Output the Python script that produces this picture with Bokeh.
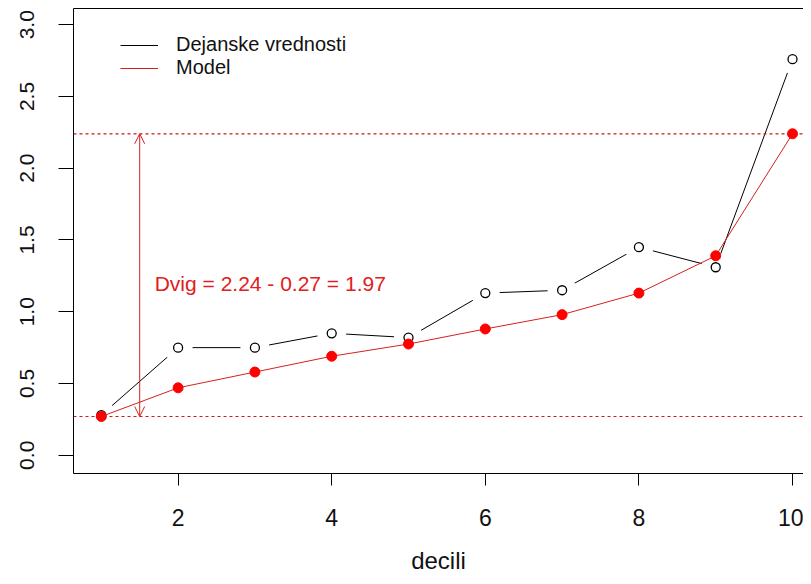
from bokeh.plotting import figure
from bokeh.models import (Range1d, FixedTicker, PrintfTickFormatter, LinearAxis,
                          Span, Arrow, OpenHead, Legend, LegendItem, ColumnDataSource)
from bokeh.core.properties import value
from bokeh.embed import file_html
from bokeh.resources import INLINE

# ---- data ----
decili = [1, 2, 3, 4, 5, 6, 7, 8, 9, 10]
dejanske = [0.28, 0.75, 0.75, 0.85, 0.82, 1.13, 1.15, 1.45, 1.31, 2.76]
model = [0.27, 0.47, 0.58, 0.69, 0.775, 0.88, 0.98, 1.13, 1.39, 2.24]
x_ticks = [2, 4, 6, 8, 10]
y_ticks = [0.0, 0.5, 1.0, 1.5, 2.0, 2.5, 3.0]
dvig_low = 0.27
dvig_high = 2.24
arrow_x = 1.5
label_x = 3.2
label_y = 1.2
label_text = "Dvig = 2.24 - 0.27 = 1.97"
legend_labels = ["Dejanske vrednosti", "Model"]

FONT = "Liberation Sans"
RED = "#ff0000"
LINE_RED = "#d42020"

p = figure(width=803, height=576, output_backend="svg", toolbar_location=None,
           x_range=Range1d(0.638, 10.143), y_range=Range1d(-0.127, 3.113),
           min_border_left=73, min_border_right=0, min_border_top=8,
           min_border_bottom=99, x_axis_label="decili")
p.outline_line_color = None
p.grid.visible = False
p.background_fill_color = "white"
p.border_fill_color = "white"

# axes
xa = p.xaxis[0]
xa.ticker = FixedTicker(ticks=x_ticks)
xa.major_tick_out = 12
xa.major_tick_in = 0
xa.minor_tick_out = 0
xa.minor_tick_in = 0
xa.major_label_text_font = FONT
xa.major_label_text_font_size = "23px"
xa.major_label_text_color = "#111111"
xa.major_label_standoff = 23
xa.axis_label_text_font = FONT
xa.axis_label_text_font_size = "24px"
xa.axis_label_text_font_style = "normal"
xa.axis_label_text_color = "#111111"
xa.axis_label_standoff = 18
xa.axis_line_color = "black"

ya = p.yaxis[0]
ya.ticker = FixedTicker(ticks=y_ticks)
ya.formatter = PrintfTickFormatter(format="%.1f")
ya.major_tick_out = 15
ya.major_tick_in = 0
ya.minor_tick_out = 0
ya.minor_tick_in = 0
ya.major_label_text_font = FONT
ya.major_label_text_font_size = "21px"
ya.major_label_text_color = "#111111"
ya.major_label_orientation = "vertical"
ya.major_label_standoff = 24
ya.axis_line_color = "black"

top = LinearAxis(ticker=FixedTicker(ticks=[]), major_tick_out=0, major_tick_in=0,
                 minor_tick_out=0, minor_tick_in=0, major_label_standoff=0,
                 major_label_text_font_size="0px", axis_line_color="black")
p.add_layout(top, "above")

src = ColumnDataSource(dict(x=decili, d=dejanske, m=model))

# black series (type "b": line with gaps around points)
black_line = p.line("x", "d", source=src, line_color="black", line_width=1)
p.scatter("x", "d", source=src, size=29, fill_color="white", line_color=None)
p.scatter("x", "d", source=src, size=9, fill_color=None, line_color="black", line_width=1.3)

# red model series
red_line = p.line("x", "m", source=src, line_color=LINE_RED, line_width=1)
p.scatter("x", "m", source=src, size=10, fill_color=RED, line_color=RED)

# dotted horizontal lines
for loc in (dvig_high, dvig_low):
    p.add_layout(Span(location=loc, dimension="width", line_color="#cc1a1a",
                      line_dash="3 3", line_width=1.2))

# double arrow
p.add_layout(Arrow(x_start=arrow_x, y_start=dvig_low, x_end=arrow_x, y_end=dvig_high,
                   line_color=LINE_RED, line_width=1,
                   start=OpenHead(size=10, line_color=LINE_RED, line_width=1),
                   end=OpenHead(size=10, line_color=LINE_RED, line_width=1)))

p.text(x=[label_x], y=[label_y], text=[label_text], text_font=value(FONT),
       text_font_size="21px", text_color="#e02020", text_align="center",
       text_baseline="middle")

legend = Legend(items=[LegendItem(label=legend_labels[0], renderers=[black_line]),
                       LegendItem(label=legend_labels[1], renderers=[red_line])],
                location=(47, 394), padding=0, spacing=0, margin=0,
                glyph_width=38, glyph_height=20, label_height=20,
                label_standoff=18, label_text_font=FONT,
                label_text_font_size="20px", label_text_color="#111111",
                border_line_color=None, background_fill_alpha=0)
p.add_layout(legend)

open("out.html", "w").write(file_html(p, INLINE))
